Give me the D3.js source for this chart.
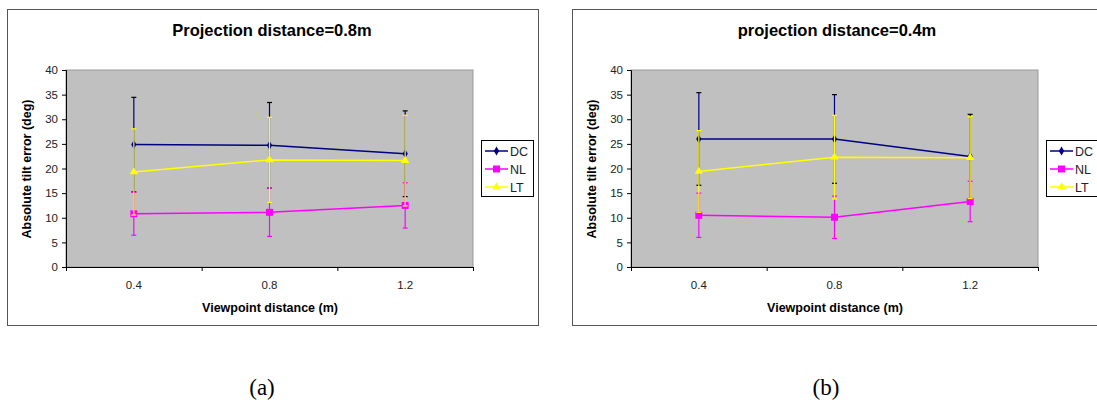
<!DOCTYPE html>
<html>
<head>
<meta charset="utf-8">
<script src="https://cdn.jsdelivr.net/npm/d3@7"></script>
<style>
  body { margin: 0; background: #fff; }
  svg { display: block; }
</style>
</head>
<body>
<svg width="1097" height="416"></svg>
<script>
var categories = ["0.4", "0.8", "1.2"];
var seriesNames = ["DC", "NL", "LT"];
var yTicks = [0, 5, 10, 15, 20, 25, 30, 35, 40];

// (a) projection distance 0.8m
var dcA = [24.85, 24.7, 23.0];
var dcErrA = [9.6, 8.7, 8.7];
var nlA = [10.8, 11.1, 12.5];
var nlErrA = [4.35, 4.9, 4.6];
var ltA = [19.3, 21.75, 21.6];
var ltErrA = [8.75, 8.65, 9.2];

// (b) projection distance 0.4m
var dcB = [26.0, 26.0, 22.45];
var dcErrB = [9.4, 9.0, 8.55];
var nlB = [10.5, 10.1, 13.3];
var nlErrB = [4.5, 4.3, 4.1];
var ltB = [19.4, 22.3, 22.2];
var ltErrB = [8.3, 8.5, 8.3];

var colors = { DC: "#000080", NL: "#ff00ff", LT: "#ffff00" };
var font = "Liberation Sans, Arial, sans-serif";

var svg = d3.select("svg");

drawChart(0, "Projection distance=0.8m",
  { DC: dcA, NL: nlA, LT: ltA }, { DC: dcErrA, NL: nlErrA, LT: ltErrA });
drawChart(565, "projection distance=0.4m",
  { DC: dcB, NL: nlB, LT: ltB }, { DC: dcErrB, NL: nlErrB, LT: ltErrB });

svg.append("text").attr("x", 262).attr("y", 395)
  .attr("text-anchor", "middle").style("font-family", "Liberation Serif, serif")
  .style("font-size", "23px").text("(a)");
svg.append("text").attr("x", 826).attr("y", 395)
  .attr("text-anchor", "middle").style("font-family", "Liberation Serif, serif")
  .style("font-size", "23px").text("(b)");

function marker(g, name, x, y) {
  var c = colors[name];
  if (name == "DC") {
    g.append("path").attr("d", d3.symbol().type(d3.symbolDiamond).size(24)())
      .attr("transform", "translate(" + x + "," + y + ")").attr("fill", c);
  } else if (name == "NL") {
    g.append("rect").attr("x", x - 3.5).attr("y", y - 3.5).attr("width", 7).attr("height", 7)
      .attr("fill", c);
  } else {
    g.append("path").attr("d", d3.symbol().type(d3.symbolTriangle).size(30)())
      .attr("transform", "translate(" + x + "," + y + ")").attr("fill", c);
  }
}

function drawChart(dx, title, values, errs) {
  var g = svg.append("g").attr("transform", "translate(" + dx + ",0)");

  g.append("rect").attr("x", 7.5).attr("y", 9.5).attr("width", 531).attr("height", 316)
    .attr("fill", "#fff").attr("stroke", "#555").attr("stroke-width", 1);

  var left = 66, right = 473, top = 70, bottom = 267;

  var xScale = d3.scaleBand().domain(categories).range([left, right]).padding(0);
  var xEdge = d3.scaleLinear().domain([0, 3]).range([left, right]);
  var yScale = d3.scaleLinear().domain([0, 40]).range([bottom, top]);

  g.append("rect").attr("x", left).attr("y", top)
    .attr("width", right - left).attr("height", bottom - top)
    .attr("fill", "#c0c0c0").attr("stroke", "#999");

  var yAxis = d3.axisLeft(yScale).tickValues(yTicks).tickSize(4).tickPadding(4);
  var yG = g.append("g").attr("transform", "translate(" + left + ",0)").call(yAxis);
  yG.select(".domain").attr("stroke", "#000");
  yG.selectAll("text").style("font-family", font).style("font-size", "11.5px").attr("fill", "#222");

  var xTicks = d3.axisBottom(xEdge).tickValues([0, 1, 2, 3]).tickFormat("").tickSize(4).tickSizeOuter(0);
  var xG = g.append("g").attr("transform", "translate(0," + bottom + ")").call(xTicks);
  xG.select(".domain").attr("stroke", "#000");

  var xLab = d3.axisBottom(xScale).tickSize(0).tickPadding(14);
  var xL = g.append("g").attr("transform", "translate(0," + bottom + ")").call(xLab);
  xL.select(".domain").remove();
  xL.selectAll("text").style("font-family", font).style("font-size", "11.5px").attr("fill", "#222");

  g.append("text").attr("x", 272).attr("y", 36).attr("text-anchor", "middle")
    .style("font-family", font).style("font-size", "16.5px").style("font-weight", "bold")
    .text(title);

  g.append("text").attr("x", 270).attr("y", 312).attr("text-anchor", "middle")
    .style("font-family", font).style("font-size", "12.5px").style("font-weight", "bold")
    .text("Viewpoint distance (m)");

  g.append("text").attr("transform", "translate(31,169) rotate(-90)").attr("text-anchor", "middle")
    .style("font-family", font).style("font-size", "12.5px").style("font-weight", "bold")
    .text("Absolute tilt error (deg)");

  var cx = function (i) { return xScale(categories[i]) + xScale.bandwidth() / 2; };

  seriesNames.forEach(function (name) {
    var vals = values[name];
    var er = errs[name];
    var c = colors[name];
    var s = g.append("g");

    vals.forEach(function (v, i) {
      var x = cx(i);
      var y1 = yScale(v + er[i]), y0 = yScale(v - er[i]);
      s.append("line").attr("x1", x).attr("x2", x).attr("y1", y1).attr("y2", y0)
        .attr("stroke", c).attr("stroke-width", 1.2);
      [y0, y1].forEach(function (yy) {
        s.append("line").attr("x1", x - 2.5).attr("x2", x + 2.5).attr("y1", yy).attr("y2", yy)
          .attr("stroke", name == "DC" ? "#000" : c).attr("stroke-width", 1.2);
      });
    });

    var line = d3.line().x(function (d, i) { return cx(i); }).y(function (d) { return yScale(d); });
    s.append("path").attr("d", line(vals)).attr("fill", "none")
      .attr("stroke", c).attr("stroke-width", 1.5);

    vals.forEach(function (v, i) { marker(s, name, cx(i), yScale(v)); });
  });

  // legend
  var lg = g.append("g").attr("transform", "translate(481,140)");
  lg.append("rect").attr("x", 0.5).attr("y", 0.5).attr("width", 52).attr("height", 56)
    .attr("fill", "#fff").attr("stroke", "#000");
  seriesNames.forEach(function (name, i) {
    var yy = 11 + i * 18;
    lg.append("line").attr("x1", 4).attr("x2", 27).attr("y1", yy).attr("y2", yy)
      .attr("stroke", colors[name]).attr("stroke-width", 1.5);
    marker(lg, name, 15.5, yy);
    lg.append("text").attr("x", 29).attr("y", yy + 4.5)
      .style("font-family", font).style("font-size", "12.5px").attr("fill", "#222")
      .text(name);
  });
}
</script>
</body>
</html>
